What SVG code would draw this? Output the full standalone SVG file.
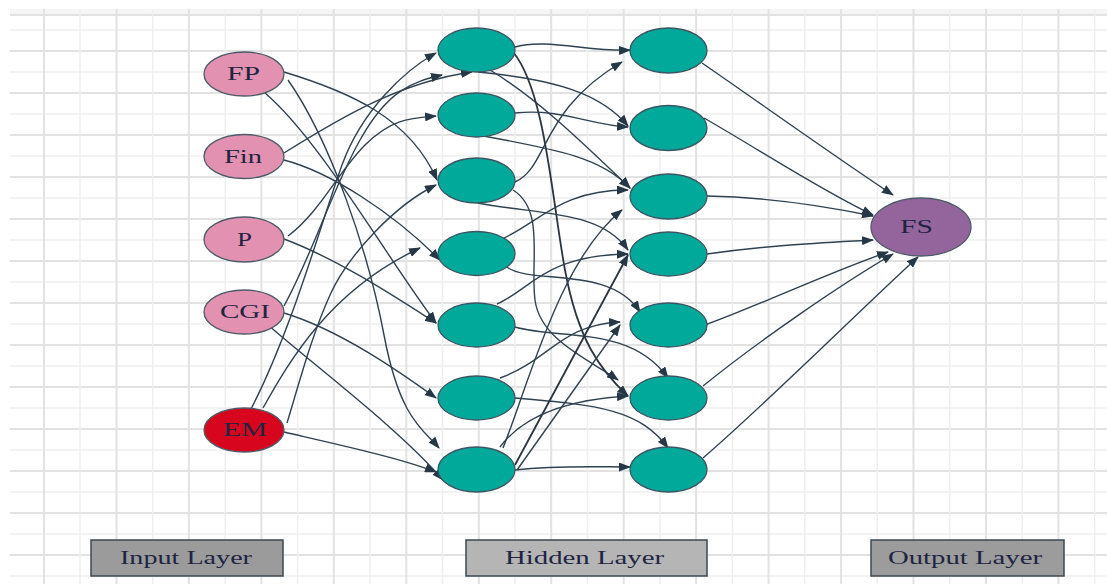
<svg xmlns="http://www.w3.org/2000/svg" width="1107" height="584" viewBox="0 0 1107 584">
<defs>
<marker id="arr" markerUnits="userSpaceOnUse" markerWidth="12" markerHeight="9" refX="11" refY="4.5" orient="auto">
<path d="M0,0 L12,4.5 L0,9 z" fill="#263746"/>
</marker>
</defs>
<style>
.gl{stroke:#efefef;stroke-width:1.5}
.gd{stroke:#e2e2e2;stroke-width:2}
.e{fill:none;stroke:#2f4252;stroke-width:1.4;marker-end:url(#arr)}
.ed{fill:none;stroke:#2a3540;stroke-width:1.8;marker-end:url(#arr)}
.in{fill:#e291b1;stroke:#4d5b68;stroke-width:1.3}
.em{fill:#d7061e;stroke:#4d5b68;stroke-width:1.3}
.hd{fill:#00a99a;stroke:#3d5563;stroke-width:1.3}
.out{fill:#94649c;stroke:#4d5b68;stroke-width:1.3}
.t{font-family:"Liberation Serif","Times New Roman",serif;font-size:18px;fill:#1e2542;text-anchor:start}
.lb{stroke:#3a4853;stroke-width:1.5}
</style>
<rect width="1107" height="584" fill="#ffffff"/>
<g id="grid">
<rect x="10" y="9" width="1097" height="6" fill="#f5f5f5"/>
<line class="gd" x1="10" y1="15" x2="1107" y2="15"/>
<line class="gl" x1="10" y1="30" x2="1107" y2="30"/>
<line class="gd" x1="10" y1="51" x2="1107" y2="51"/>
<line class="gl" x1="10" y1="72" x2="1107" y2="72"/>
<line class="gd" x1="10" y1="93" x2="1107" y2="93"/>
<line class="gl" x1="10" y1="114" x2="1107" y2="114"/>
<line class="gd" x1="10" y1="135" x2="1107" y2="135"/>
<line class="gl" x1="10" y1="156" x2="1107" y2="156"/>
<line class="gd" x1="10" y1="177" x2="1107" y2="177"/>
<line class="gl" x1="10" y1="198" x2="1107" y2="198"/>
<line class="gd" x1="10" y1="219" x2="1107" y2="219"/>
<line class="gl" x1="10" y1="240" x2="1107" y2="240"/>
<line class="gd" x1="10" y1="261" x2="1107" y2="261"/>
<line class="gl" x1="10" y1="282" x2="1107" y2="282"/>
<line class="gd" x1="10" y1="303" x2="1107" y2="303"/>
<line class="gl" x1="10" y1="324" x2="1107" y2="324"/>
<line class="gd" x1="10" y1="345" x2="1107" y2="345"/>
<line class="gl" x1="10" y1="366" x2="1107" y2="366"/>
<line class="gd" x1="10" y1="387" x2="1107" y2="387"/>
<line class="gl" x1="10" y1="408" x2="1107" y2="408"/>
<line class="gd" x1="10" y1="429" x2="1107" y2="429"/>
<line class="gl" x1="10" y1="450" x2="1107" y2="450"/>
<line class="gd" x1="10" y1="471" x2="1107" y2="471"/>
<line class="gl" x1="10" y1="492" x2="1107" y2="492"/>
<line class="gd" x1="10" y1="513" x2="1107" y2="513"/>
<line class="gl" x1="10" y1="534" x2="1107" y2="534"/>
<line class="gd" x1="10" y1="555" x2="1107" y2="555"/>
<line class="gl" x1="10" y1="576" x2="1107" y2="576"/>
<line class="gd" x1="44" y1="9" x2="44" y2="584"/>
<line class="gl" x1="80" y1="9" x2="80" y2="584"/>
<line class="gd" x1="116.5" y1="9" x2="116.5" y2="584"/>
<line class="gl" x1="152.7" y1="9" x2="152.7" y2="584"/>
<line class="gd" x1="188.9" y1="9" x2="188.9" y2="584"/>
<line class="gl" x1="225.2" y1="9" x2="225.2" y2="584"/>
<line class="gd" x1="261.4" y1="9" x2="261.4" y2="584"/>
<line class="gl" x1="297.6" y1="9" x2="297.6" y2="584"/>
<line class="gd" x1="333.8" y1="9" x2="333.8" y2="584"/>
<line class="gl" x1="370.1" y1="9" x2="370.1" y2="584"/>
<line class="gd" x1="406.3" y1="9" x2="406.3" y2="584"/>
<line class="gl" x1="442.5" y1="9" x2="442.5" y2="584"/>
<line class="gd" x1="478.8" y1="9" x2="478.8" y2="584"/>
<line class="gl" x1="515" y1="9" x2="515" y2="584"/>
<line class="gd" x1="551.2" y1="9" x2="551.2" y2="584"/>
<line class="gl" x1="587.5" y1="9" x2="587.5" y2="584"/>
<line class="gd" x1="623.7" y1="9" x2="623.7" y2="584"/>
<line class="gl" x1="659.9" y1="9" x2="659.9" y2="584"/>
<line class="gd" x1="696.1" y1="9" x2="696.1" y2="584"/>
<line class="gl" x1="732.4" y1="9" x2="732.4" y2="584"/>
<line class="gd" x1="768.6" y1="9" x2="768.6" y2="584"/>
<line class="gl" x1="804.8" y1="9" x2="804.8" y2="584"/>
<line class="gd" x1="841.1" y1="9" x2="841.1" y2="584"/>
<line class="gl" x1="877.3" y1="9" x2="877.3" y2="584"/>
<line class="gd" x1="913.5" y1="9" x2="913.5" y2="584"/>
<line class="gl" x1="949.8" y1="9" x2="949.8" y2="584"/>
<line class="gd" x1="986" y1="9" x2="986" y2="584"/>
<line class="gl" x1="1022.2" y1="9" x2="1022.2" y2="584"/>
<line class="gd" x1="1058.4" y1="9" x2="1058.4" y2="584"/>
<line class="gl" x1="1094.7" y1="9" x2="1094.7" y2="584"/>
</g>
<g id="connectors">
<path class="e" d="M284,72 C350,92 410,118 437,180"/>
<path class="e" d="M265,93 C320,140 385,255 436,323"/>
<path class="e" d="M288,80 C330,140 368,250 384,335 S424,430 439,448"/>
<path class="e" d="M284,153 C340,118 400,82 472,72"/>
<path class="e" d="M284,160 C330,172 392,212 440,260"/>
<path class="e" d="M288,236 C320,212 338,172 365,145 S412,118 436,116"/>
<path class="e" d="M284,239 C340,260 400,300 436,323"/>
<path class="e" d="M284,306 C312,255 332,190 360,140 S412,82 442,75"/>
<path class="e" d="M284,313 C340,330 400,372 436,398"/>
<path class="e" d="M268,325 C320,370 400,430 443,480"/>
<path class="e" d="M251,409 C292,330 322,220 342,165 S405,70 436,53"/>
<path class="e" d="M287,423 C300,380 312,335 330,295 S395,205 436,185"/>
<path class="e" d="M263,408 C290,360 330,290 420,248"/>
<path class="e" d="M284,432 C340,445 400,458 436,472"/>
<path class="e" d="M515,47 C545,38 590,52 630,50"/>
<path class="e" d="M478,72 C560,80 602,95 628,126"/>
<path class="e" d="M490,70 C540,100 590,150 630,188"/>
<path class="ed" d="M513,52 C545,90 552,200 565,270 S600,370 628,396"/>
<path class="e" d="M515,113 C560,108 590,125 628,127"/>
<path class="e" d="M478,135 C560,150 602,158 630,188"/>
<path class="e" d="M515,182 C548,168 540,110 622,62"/>
<path class="e" d="M478,203 C540,215 600,210 628,250"/>
<path class="e" d="M513,190 C545,210 530,260 535,300 S590,360 618,380"/>
<path class="e" d="M500,240 C540,222 560,190 628,190"/>
<path class="e" d="M507,267 C530,285 610,265 640,312"/>
<path class="e" d="M497,304 C530,290 545,255 628,254"/>
<path class="e" d="M515,327 C560,340 630,325 668,378"/>
<path class="e" d="M500,378 C550,360 560,325 620,322"/>
<path class="e" d="M515,398 C600,405 640,410 668,448"/>
<path class="e" d="M503,448 C530,380 560,260 622,210"/>
<path class="ed" d="M515,465 L628,255"/>
<path class="e" d="M517,470 L620,325"/>
<path class="e" d="M500,447 C520,420 560,400 628,396"/>
<path class="e" d="M515,470 C560,465 600,467 630,467"/>
<path class="e" d="M702,63 C770,110 840,160 893,195"/>
<path class="e" d="M704,118 C760,150 820,190 873,215"/>
<path class="e" d="M707,196 C760,197 820,205 873,216"/>
<path class="e" d="M707,254 C770,245 820,243 873,240"/>
<path class="e" d="M705,325 C760,305 830,272 888,252"/>
<path class="e" d="M703,386 C760,340 840,285 893,254"/>
<path class="e" d="M703,458 C770,400 860,310 918,257"/>
</g>
<g id="FP"><ellipse class="in" cx="244" cy="74" rx="40" ry="22"/><text class="t" x="227" y="80" textLength="33" lengthAdjust="spacingAndGlyphs">FP</text></g>
<g id="Fin"><ellipse class="in" cx="244" cy="156.5" rx="40" ry="22"/><text class="t" x="224" y="163" textLength="38" lengthAdjust="spacingAndGlyphs">Fin</text></g>
<g id="P"><ellipse class="in" cx="244" cy="239.5" rx="40" ry="22.5"/><text class="t" x="237" y="246" textLength="15" lengthAdjust="spacingAndGlyphs">P</text></g>
<g id="CGI"><ellipse class="in" cx="244" cy="312" rx="40" ry="22"/><text class="t" x="220" y="318" textLength="50" lengthAdjust="spacingAndGlyphs">CGI</text></g>
<g id="EM"><ellipse class="em" cx="244" cy="430" rx="40" ry="22"/><text class="t" x="223" y="436" textLength="44" lengthAdjust="spacingAndGlyphs">EM</text></g>
<g id="H1_1"><ellipse class="hd" cx="476.5" cy="50" rx="38.5" ry="22"/></g>
<g id="H1_2"><ellipse class="hd" cx="476.5" cy="115" rx="38.5" ry="22"/></g>
<g id="H1_3"><ellipse class="hd" cx="476.5" cy="180.5" rx="38.5" ry="22.5"/></g>
<g id="H1_4"><ellipse class="hd" cx="476.5" cy="253.5" rx="38.5" ry="22"/></g>
<g id="H1_5"><ellipse class="hd" cx="476.5" cy="325" rx="38.5" ry="22"/></g>
<g id="H1_6"><ellipse class="hd" cx="476.5" cy="398" rx="38.5" ry="22"/></g>
<g id="H1_7"><ellipse class="hd" cx="476.5" cy="469.5" rx="38.5" ry="22.5"/></g>
<g id="H2_1"><ellipse class="hd" cx="668.5" cy="50.5" rx="38.5" ry="22.5"/></g>
<g id="H2_2"><ellipse class="hd" cx="668.5" cy="128" rx="38.5" ry="22.5"/></g>
<g id="H2_3"><ellipse class="hd" cx="668.5" cy="196.5" rx="38.5" ry="22.5"/></g>
<g id="H2_4"><ellipse class="hd" cx="668.5" cy="254" rx="38.5" ry="22"/></g>
<g id="H2_5"><ellipse class="hd" cx="668.5" cy="325" rx="38.5" ry="22"/></g>
<g id="H2_6"><ellipse class="hd" cx="668.5" cy="398" rx="38.5" ry="22"/></g>
<g id="H2_7"><ellipse class="hd" cx="668.5" cy="469.5" rx="38.5" ry="22.5"/></g>
<g id="FS"><ellipse class="out" cx="921" cy="227" rx="50" ry="29"/><text class="t" x="900" y="233" textLength="33" lengthAdjust="spacingAndGlyphs">FS</text></g>
<g id="input-layer"><rect class="lb" x="91" y="540" width="192" height="36" fill="#9b9b9b"/><text class="t" x="120" y="564" font-size="19" textLength="132" lengthAdjust="spacingAndGlyphs">Input Layer</text></g>
<g id="hidden-layer"><rect class="lb" x="466" y="540" width="241" height="36" fill="#b5b5b5"/><text class="t" x="505" y="564" font-size="19" textLength="159" lengthAdjust="spacingAndGlyphs">Hidden Layer</text></g>
<g id="output-layer"><rect class="lb" x="871" y="540" width="193" height="36" fill="#9c9c9c"/><text class="t" x="888" y="564" font-size="19" textLength="154" lengthAdjust="spacingAndGlyphs">Output Layer</text></g>
</svg>
